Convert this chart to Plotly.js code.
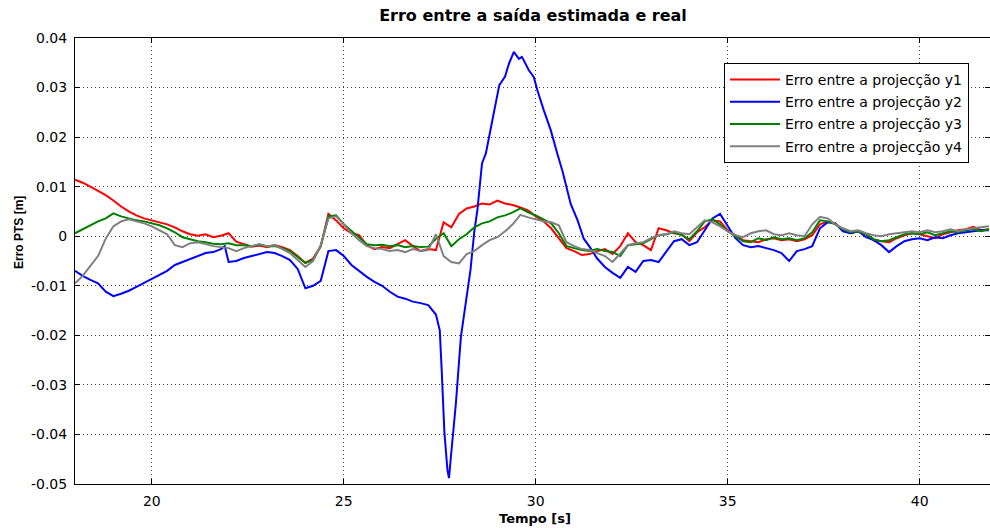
<!DOCTYPE html>
<html>
<head>
<meta charset="utf-8">
<script src="https://cdn.plot.ly/plotly-3.0.1.min.js"></script>
<style>html,body{margin:0;padding:0;background:#fff;}#chart{width:990px;height:528px;}</style>
</head>
<body>
<div id="chart"></div>
<script>
// ---- data ----
const seriesNames = ["Erro entre a projecção y1", "Erro entre a projecção y2", "Erro entre a projecção y3", "Erro entre a projecção y4"];

const tCommon = [18.0,18.2,18.4,18.6,18.8,19.0,19.2,19.4,19.6,19.8,20.0,20.2,20.4,20.6,20.8,21.0,21.2,21.4,21.6,21.8,22.0,22.2,22.4,22.6,22.8,23.0,23.2,23.4,23.6,23.8,24.0,24.2,24.4,24.6,24.8,25.0,25.2,25.4,25.6,25.8,26.0,26.2,26.4,26.6,26.8,27.0,27.2,27.4,27.6,27.8,28.0,28.2,28.4,28.6,28.8,29.0,29.2,29.4,29.6,29.8,30.0,30.2,30.4,30.6,30.8,31.0,31.2,31.4,31.6,31.8,32.0,32.2,32.4,32.6,32.8,33.0,33.2,33.4,33.6,33.8,34.0,34.2,34.4,34.6,34.8,35.0,35.2,35.4,35.6,35.8,36.0,36.2,36.4,36.6,36.8,37.0,37.2,37.4,37.6,37.8,38.0,38.2,38.4,38.6,38.8,39.0,39.2,39.4,39.6,39.8,40.0,40.2,40.4,40.6,40.8,41.0,41.2,41.4,41.6,41.8];

const errY1 = [0.0114,0.0108,0.0100,0.0091,0.0083,0.0072,0.0060,0.0050,0.0042,0.0036,0.0032,0.0027,0.0024,0.0018,0.0010,0.0004,0.0001,0.0004,-0.0002,0.0001,0.0006,-0.0011,-0.0016,-0.0021,-0.0019,-0.0022,-0.0018,-0.0022,-0.0028,-0.0040,-0.0054,-0.0045,-0.0020,0.0045,0.0032,0.0016,0.0006,0.0002,-0.0018,-0.0026,-0.0022,-0.0024,-0.0016,-0.0008,-0.0020,-0.0030,-0.0026,-0.0028,0.0028,0.0018,0.0045,0.0056,0.0060,0.0066,0.0064,0.0072,0.0066,0.0063,0.0058,0.0052,0.0040,0.0030,0.0016,-0.0004,-0.0024,-0.0030,-0.0038,-0.0036,-0.0030,-0.0026,-0.0036,-0.0020,0.0006,-0.0012,-0.0018,-0.0028,0.0016,0.0012,0.0006,0.0004,-0.0010,0.0008,0.0018,0.0032,0.0030,0.0012,0.0002,-0.0008,-0.0010,-0.0012,-0.0006,-0.0004,-0.0008,-0.0006,-0.0010,-0.0006,0.0002,0.0024,0.0029,0.0026,0.0012,0.0006,0.0010,0.0004,-0.0008,-0.0010,-0.0012,-0.0004,0.0002,0.0006,0.0004,0.0000,-0.0004,0.0004,0.0008,0.0012,0.0014,0.0019,0.0012,0.0014];

const errY3 = [0.0006,0.0014,0.0022,0.0030,0.0036,0.0046,0.0040,0.0036,0.0032,0.0030,0.0026,0.0022,0.0016,0.0008,-0.0002,-0.0006,-0.0010,-0.0012,-0.0015,-0.0016,-0.0014,-0.0018,-0.0018,-0.0020,-0.0017,-0.0020,-0.0020,-0.0024,-0.0030,-0.0042,-0.0054,-0.0048,-0.0020,0.0040,0.0042,0.0024,0.0010,-0.0004,-0.0016,-0.0018,-0.0017,-0.0020,-0.0018,-0.0022,-0.0020,-0.0022,-0.0021,-0.0005,0.0006,-0.0020,-0.0006,0.0004,0.0018,0.0026,0.0030,0.0038,0.0042,0.0048,0.0056,0.0048,0.0042,0.0034,0.0026,0.0006,-0.0020,-0.0024,-0.0028,-0.0030,-0.0026,-0.0030,-0.0032,-0.0040,-0.0018,-0.0016,-0.0014,-0.0006,0.0002,0.0004,0.0008,0.0002,-0.0006,0.0010,0.0030,0.0034,0.0024,0.0010,0.0000,-0.0010,-0.0012,-0.0004,-0.0008,-0.0002,-0.0006,-0.0004,-0.0008,-0.0004,0.0008,0.0032,0.0030,0.0024,0.0014,0.0008,0.0010,0.0004,-0.0006,-0.0010,-0.0008,-0.0002,0.0004,0.0006,0.0004,0.0008,0.0002,0.0006,0.0010,0.0008,0.0012,0.0014,0.0010,0.0014];

const errY4 = [-0.0095,-0.0080,-0.0060,-0.0040,-0.0005,0.0020,0.0030,0.0034,0.0030,0.0026,0.0020,0.0012,0.0004,-0.0018,-0.0022,-0.0014,-0.0012,-0.0016,-0.0020,-0.0022,-0.0024,-0.0030,-0.0024,-0.0020,-0.0016,-0.0020,-0.0018,-0.0026,-0.0034,-0.0048,-0.0062,-0.0050,-0.0018,0.0036,0.0040,0.0024,0.0006,-0.0008,-0.0020,-0.0024,-0.0026,-0.0030,-0.0028,-0.0032,-0.0026,-0.0030,-0.0028,0.0004,-0.0040,-0.0052,-0.0055,-0.0036,-0.0030,-0.0018,-0.0008,-0.0002,0.0010,0.0024,0.0043,0.0038,0.0034,0.0030,0.0028,0.0022,-0.0012,-0.0020,-0.0026,-0.0028,-0.0034,-0.0040,-0.0052,-0.0034,-0.0018,-0.0014,-0.0012,-0.0004,0.0002,0.0004,0.0010,0.0006,0.0004,0.0018,0.0032,0.0028,0.0020,0.0010,0.0002,-0.0002,0.0006,0.0010,0.0012,0.0004,0.0002,0.0006,0.0002,0.0000,0.0024,0.0039,0.0036,0.0024,0.0016,0.0010,0.0012,0.0006,0.0002,0.0000,0.0004,0.0006,0.0008,0.0010,0.0008,0.0012,0.0008,0.0010,0.0014,0.0010,0.0014,0.0016,0.0018,0.0020];

const tY2 = [18.0,18.2,18.4,18.6,18.8,19.0,19.2,19.4,19.6,19.8,20.0,20.2,20.4,20.6,20.8,21.0,21.2,21.4,21.6,21.8,21.9,22.0,22.2,22.4,22.6,22.8,23.0,23.2,23.4,23.6,23.8,24.0,24.2,24.4,24.6,24.8,25.0,25.2,25.4,25.6,25.8,26.0,26.2,26.4,26.6,26.8,27.0,27.2,27.4,27.5,27.55,27.62,27.7,27.74,27.79,27.92,28.05,28.18,28.3,28.4,28.48,28.6,28.7,28.87,29.05,29.2,29.3,29.43,29.56,29.64,29.82,29.95,30.04,30.21,30.39,30.56,30.7,30.91,31.09,31.25,31.4,31.6,31.8,32.0,32.2,32.4,32.6,32.8,33.0,33.2,33.4,33.6,33.8,34.0,34.2,34.4,34.6,34.8,35.0,35.2,35.4,35.6,35.8,36.0,36.2,36.4,36.6,36.8,37.0,37.2,37.4,37.6,37.8,38.0,38.2,38.4,38.6,38.8,39.0,39.2,39.4,39.6,39.8,40.0,40.2,40.4,40.6,40.8,41.0,41.2,41.4,41.6,41.8];

const errY2 = [-0.0070,-0.0080,-0.0088,-0.0095,-0.0112,-0.0121,-0.0116,-0.0110,-0.0102,-0.0094,-0.0086,-0.0078,-0.0070,-0.0058,-0.0052,-0.0046,-0.0040,-0.0034,-0.0032,-0.0026,-0.0020,-0.0052,-0.0050,-0.0044,-0.0040,-0.0036,-0.0032,-0.0034,-0.0040,-0.0048,-0.0066,-0.0105,-0.0100,-0.0090,-0.0030,-0.0028,-0.0040,-0.0058,-0.0070,-0.0082,-0.0092,-0.0100,-0.0112,-0.0122,-0.0126,-0.0132,-0.0135,-0.0139,-0.0158,-0.0190,-0.0270,-0.0395,-0.0472,-0.0488,-0.0445,-0.0337,-0.0203,-0.0135,-0.0068,0.0010,0.0053,0.0147,0.0167,0.0234,0.0305,0.0322,0.0348,0.0372,0.0358,0.0362,0.0335,0.0321,0.0295,0.0254,0.0214,0.0167,0.0130,0.0065,0.0032,-0.0005,-0.0021,-0.0045,-0.0062,-0.0074,-0.0084,-0.0062,-0.0072,-0.0050,-0.0048,-0.0052,-0.0030,-0.0010,-0.0006,-0.0018,-0.0012,0.0012,0.0036,0.0045,0.0020,-0.0004,-0.0018,-0.0022,-0.0020,-0.0024,-0.0028,-0.0034,-0.0050,-0.0030,-0.0026,-0.0020,0.0016,0.0028,0.0026,0.0010,0.0006,0.0010,-0.0002,-0.0008,-0.0018,-0.0032,-0.0020,-0.0010,-0.0006,-0.0004,-0.0008,-0.0002,-0.0004,0.0002,0.0006,0.0008,0.0010,0.0012,0.0012];

const xTickVals = [20, 25, 30, 35, 40];
const yTickVals = [-0.05, -0.04, -0.03, -0.02, -0.01, 0, 0.01, 0.02, 0.03, 0.04];
const yTickText = ["-0.05", "-0.04", "-0.03", "-0.02", "-0.01", "0", "0.01", "0.02", "0.03", "0.04"];

// ---- chart ----
const lineColors = ["#ff0000", "#0000ff", "#008000", "#808080"];
const xs = [tCommon, tY2, tCommon, tCommon];
const ys = [errY1, errY2, errY3, errY4];

const traces = ys.map((y, i) => ({
  x: xs[i], y: y, type: "scatter", mode: "lines",
  name: seriesNames[i], legendgroup: "g" + i,
  line: { color: lineColors[i], width: 2 }
}));

const axisCommon = {
  showline: true, linecolor: "#000", linewidth: 1, mirror: "ticks",
  ticks: "inside", ticklen: 5, tickcolor: "#000", tickwidth: 1,
  showgrid: true, gridcolor: "#444", gridwidth: 1, griddash: "1px,3px",
  zeroline: false,
  tickfont: { family: "DejaVu Sans", size: 14, color: "#000" }
};

const layout = {
  width: 990, height: 528,
  margin: { l: 75, r: 0, t: 38, b: 44 },
  paper_bgcolor: "#fff", plot_bgcolor: "#fff",
  showlegend: true,
  title: { text: "<b>Erro entre a saída estimada e real</b>", font: { family: "DejaVu Sans", size: 16, color: "#000" }, x: 533/990, xanchor: "center", y: 1 - 15/528, yanchor: "middle" },
  xaxis: Object.assign({}, axisCommon, { range: [18, 41.83], tickmode: "array", tickvals: xTickVals, ticklabelstandoff: 4 }),
  yaxis: Object.assign({}, axisCommon, { range: [-0.05, 0.04], tickmode: "array", tickvals: yTickVals, ticktext: yTickText, ticklabelstandoff: 4 }),
  legend: {
    x: (724 - 75) / 915, y: (484 - 63) / 446, xanchor: "left", yanchor: "top",
    bgcolor: "#fff", bordercolor: "#000", borderwidth: 1,
    font: { family: "DejaVu Sans", size: 14, color: "#000" },
    tracegroupgap: 1, itemwidth: 50
  },
  annotations: [
    { text: "<b>Tempo [s]</b>", xref: "paper", yref: "paper", x: (535 - 75) / 915, y: (484 - 518) / 446, xanchor: "center", yanchor: "middle", showarrow: false, font: { family: "DejaVu Sans", size: 13, color: "#000" } },
    { text: "<b>Erro PTS [m]</b>", xref: "paper", yref: "paper", x: (19 - 75) / 915, y: (484 - 233) / 446, xanchor: "center", yanchor: "middle", textangle: -90, showarrow: false, font: { family: "Liberation Sans", size: 12, color: "#000" } }
  ]
};

Plotly.newPlot("chart", traces, layout, { displayModeBar: false, staticPlot: true });
</script>
</body>
</html>
